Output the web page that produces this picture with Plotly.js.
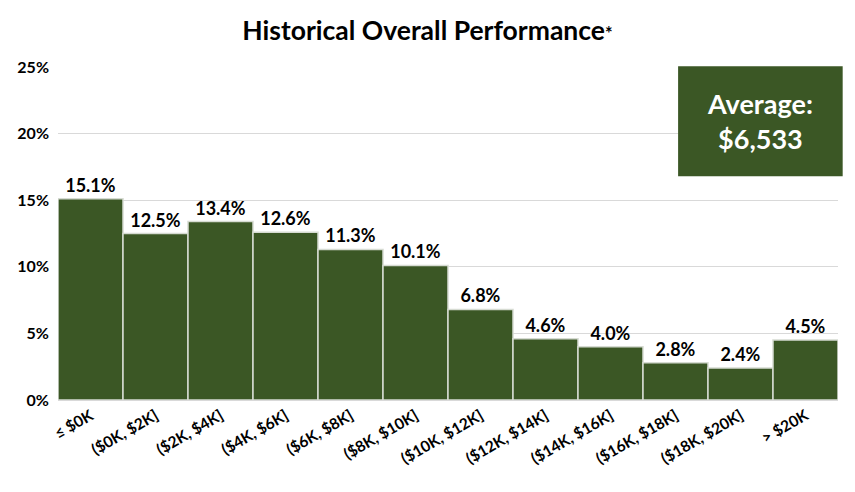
<!DOCTYPE html>
<html>
<head>
<meta charset="utf-8">
<script src="https://cdn.plot.ly/plotly-3.0.1.min.js"></script>
<style>
  html, body { margin: 0; padding: 0; background: #fff; }
  #chart { width: 855px; height: 492px; }
</style>
</head>
<body>
<div id="chart"></div>
<script>
var categories = ['≤ $0K', '($0K, $2K]', '($2K, $4K]', '($4K, $6K]', '($6K, $8K]', '($8K, $10K]',
                  '($10K, $12K]', '($12K, $14K]', '($14K, $16K]', '($16K, $18K]', '($18K, $20K]', '> $20K'];
var shares = [15.1, 12.5, 13.4, 12.6, 11.3, 10.1, 6.8, 4.6, 4.0, 2.8, 2.4, 4.5];
var averageText = 'Average:<br>$6,533';

var green = '#3b5725';
var font = 'Lato, "Open Sans", sans-serif';

var data = [{
    type: 'bar',
    x: categories,
    y: shares,
    text: shares.map(function (v) { return v.toFixed(1) + '%'; }),
    textposition: 'outside',
    cliponaxis: false,
    textfont: {family: font, size: 18, color: '#000', weight: 'bold'},
    marker: {color: green, line: {color: '#d6dbd2', width: 1.5}},
    hoverinfo: 'x+y'
}];

var layout = {
    width: 855,
    height: 492,
    margin: {l: 58, r: 17, t: 67, b: 92},
    paper_bgcolor: '#fff',
    plot_bgcolor: '#fff',
    bargap: 0,
    showlegend: false,
    font: {family: font, color: '#000'},
    title: {
        text: '<b>Historical Overall Performance</b><span style="font-size:18px"><b>*</b></span>',
        font: {family: font, size: 26.5, color: '#000'},
        x: 0.5,
        xanchor: 'center',
        y: 0.937,
        yanchor: 'middle'
    },
    xaxis: {
        tickangle: -30,
        tickfont: {family: font, size: 15.5, color: '#000', weight: 'bold'},
        showgrid: false,
        showline: true,
        linecolor: '#d9d9d9',
        linewidth: 1,
        ticks: '',
        fixedrange: true
    },
    yaxis: {
        range: [0, 25],
        dtick: 5,
        ticksuffix: '%',
        tickfont: {family: font, size: 16, color: '#000', weight: 'bold'},
        showgrid: true,
        gridcolor: '#d9d9d9',
        gridwidth: 1,
        zeroline: false,
        showline: false,
        ticks: '',
        ticklabelstandoff: 8,
        fixedrange: true
    },
    shapes: [{
        type: 'rect',
        xref: 'paper', yref: 'paper',
        x0: 0.795, x1: 1.006,
        y0: 0.672, y1: 1.002,
        fillcolor: green,
        line: {width: 0},
        layer: 'above'
    }],
    annotations: [{
        xref: 'paper', yref: 'paper',
        x: 0.9, y: 0.837,
        xanchor: 'center', yanchor: 'middle',
        showarrow: false,
        text: '<b>' + averageText + '</b>',
        align: 'center',
        font: {family: font, size: 27, color: '#fff'}
    }]
};

Plotly.newPlot('chart', data, layout, {displayModeBar: false, staticPlot: true});
</script>
</body>
</html>
